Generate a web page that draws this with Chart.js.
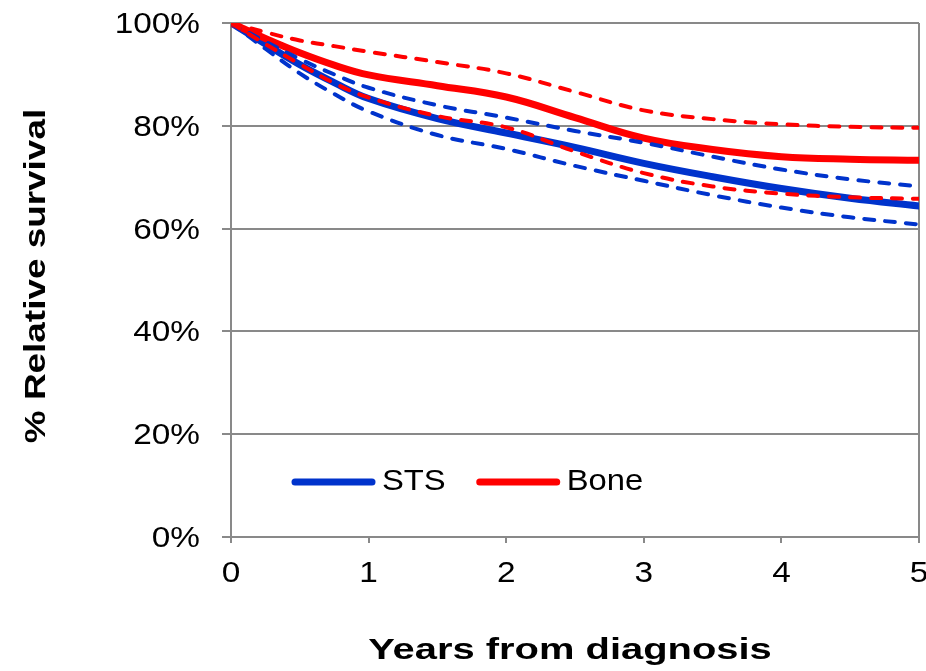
<!DOCTYPE html>
<html>
<head>
<meta charset="utf-8">
<script src="https://cdn.jsdelivr.net/npm/chart.js@4/dist/chart.umd.min.js"></script>
<style>
  html, body { margin: 0; padding: 0; background: #ffffff; }
  canvas { display: block; }
</style>
</head>
<body>
<canvas id="chart" width="926" height="671"></canvas>
<script>
// Years since diagnosis at which the curves are sampled
const years = [0, 0.25, 0.5, 0.75, 1, 1.5, 2, 2.5, 3, 3.5, 4, 4.5, 5];

// Soft tissue sarcoma: relative survival (%) with confidence limits
const stsSurvival = [100, 95.9, 91.9, 88.4, 85.3, 81.4, 78.6, 75.8, 72.7, 70.1, 67.8, 65.9, 64.4];
const stsUpper    = [100, 96.4, 93.0, 90.0, 87.4, 84.0, 81.6, 79.0, 76.7, 74.0, 71.5, 69.6, 68.2];
const stsLower    = [100, 95.0, 90.2, 86.2, 82.8, 78.2, 75.5, 72.2, 69.3, 66.5, 64.1, 62.2, 60.8];

// Bone sarcoma: relative survival (%) with confidence limits
const boneSurvival = [100, 97.0, 94.2, 91.8, 89.9, 87.8, 85.6, 81.6, 77.6, 75.4, 74.0, 73.5, 73.3];
const boneUpper    = [100, 98.2, 96.6, 95.5, 94.4, 92.4, 90.2, 86.6, 83.0, 81.3, 80.3, 79.8, 79.6];
const boneLower    = [100, 95.9, 92.0, 88.3, 85.5, 81.9, 79.7, 75.0, 70.8, 68.2, 66.8, 66.1, 65.8];

// Axis ticks and titles
const xTickValues = [0, 1, 2, 3, 4, 5];
const yTickValues = [0, 20, 40, 60, 80, 100];
const xTitle = 'Years from diagnosis';
const yTitle = '% Relative survival';

const BLUE = '#0033cc';
const RED = '#ff0000';
const GRID = '#898989';

const toPoints = (vals) => vals.map((v, i) => ({ x: years[i], y: v }));

function solid(label, vals, color) {
  return {
    label, data: toPoints(vals), borderColor: color, backgroundColor: color,
    borderWidth: 7, borderCapStyle: 'round', borderJoinStyle: 'round',
    pointRadius: 0, tension: 0.4, fill: false, showInLegend: true
  };
}
function dashed(label, vals, color) {
  return {
    label, data: toPoints(vals), borderColor: color, backgroundColor: color,
    borderWidth: 4, borderDash: [10, 11], borderCapStyle: 'round',
    pointRadius: 0, tension: 0.4, fill: false, showInLegend: false
  };
}

// Draw text with a horizontal stretch along its baseline
function stretchedText(ctx, text, x, y, sx, align, angle) {
  ctx.save();
  ctx.translate(x, y);
  if (angle) ctx.rotate(angle);
  ctx.scale(sx, 1);
  ctx.textAlign = align;
  ctx.textBaseline = 'alphabetic';
  ctx.fillText(text, 0, 0);
  ctx.restore();
}

const labelsPlugin = {
  id: 'axisLabelsAndLegend',
  afterDraw(chart) {
    const ctx = chart.ctx;
    const area = chart.chartArea;
    const xs = chart.scales.x;
    const ys = chart.scales.y;
    ctx.save();
    ctx.fillStyle = '#000000';

    // tick labels
    ctx.font = '29px "Liberation Sans", Arial, sans-serif';
    ys.ticks.forEach(t => {
      stretchedText(ctx, t.value + '%', area.left - 31, ys.getPixelForValue(t.value) + 10, 1.15, 'right');
    });
    xs.ticks.forEach(t => {
      stretchedText(ctx, String(t.value), xs.getPixelForValue(t.value), area.bottom + 45, 1.15, 'center');
    });

    // axis titles
    ctx.font = 'bold 30px "Liberation Sans", Arial, sans-serif';
    stretchedText(ctx, xTitle, (area.left + area.right) / 2 - 5, chart.height - 12, 1.33, 'center');
    stretchedText(ctx, yTitle, 45, (area.top + area.bottom) / 2 - 4, 1.23, 'center', -Math.PI / 2);

    // legend inside the plot area
    ctx.font = '29px "Liberation Sans", Arial, sans-serif';
    let lx = area.left + 64;
    const ly = area.bottom - 55;
    chart.data.datasets.filter(d => d.showInLegend).reverse().forEach(d => {
      ctx.save();
      ctx.strokeStyle = d.borderColor;
      ctx.lineWidth = 7;
      ctx.lineCap = 'round';
      ctx.beginPath();
      ctx.moveTo(lx, ly);
      ctx.lineTo(lx + 77, ly);
      ctx.stroke();
      ctx.restore();
      const tx = lx + 87;
      stretchedText(ctx, d.label, tx, ly + 8, 1.13, 'left');
      lx = tx + ctx.measureText(d.label).width * 1.13 + 34;
    });
    ctx.restore();
  }
};

new Chart(document.getElementById('chart'), {
  type: 'line',
  data: {
    datasets: [
      dashed('Bone lower limit', boneLower, RED),
      dashed('Bone upper limit', boneUpper, RED),
      dashed('STS upper limit', stsUpper, BLUE),
      dashed('STS lower limit', stsLower, BLUE),
      solid('Bone', boneSurvival, RED),
      solid('STS', stsSurvival, BLUE)
    ]
  },
  options: {
    responsive: false,
    animation: false,
    devicePixelRatio: 1,
    layout: { padding: { left: 0, top: 23, right: 7, bottom: 0 } },
    plugins: { legend: { display: false }, tooltip: { enabled: false } },
    scales: {
      x: {
        type: 'linear', min: 0, max: 5,
        afterBuildTicks: (s) => { s.ticks = xTickValues.map(v => ({ value: v })); },
        afterFit: (s) => { s.height = 134; },
        ticks: { display: false },
        grid: {
          color: (c) => (c.tick && c.tick.value === 5) ? GRID : 'rgba(0,0,0,0)',
          tickColor: GRID, lineWidth: 2, tickLength: 6, drawTicks: true
        },
        border: { display: true, color: GRID, width: 2 }
      },
      y: {
        type: 'linear', min: 0, max: 100,
        afterBuildTicks: (s) => { s.ticks = yTickValues.map(v => ({ value: v })); },
        afterFit: (s) => { s.width = 231; },
        ticks: { display: false },
        grid: { color: GRID, tickColor: GRID, lineWidth: 2, tickLength: 9, drawTicks: true },
        border: { display: true, color: GRID, width: 2 }
      }
    }
  },
  plugins: [labelsPlugin]
});
</script>
</body>
</html>
